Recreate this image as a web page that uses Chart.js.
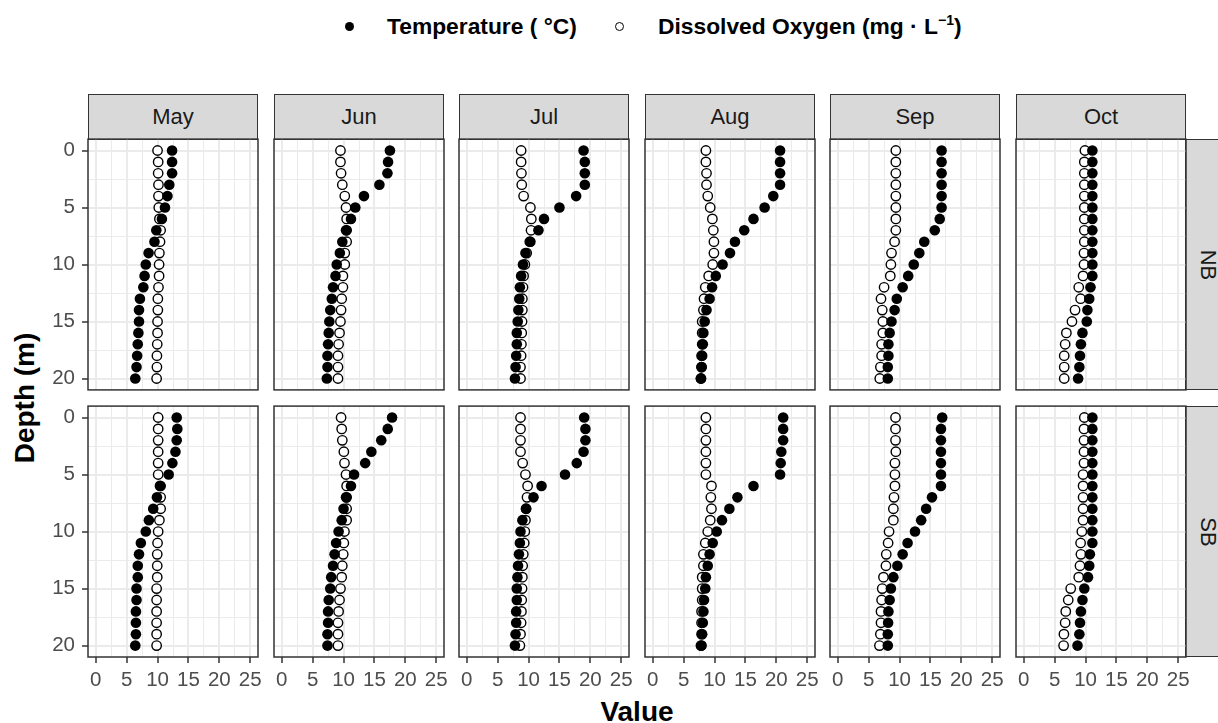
<!DOCTYPE html>
<html>
<head>
<meta charset="utf-8">
<title>Depth profiles</title>
<script src="https://cdn.jsdelivr.net/npm/chart.js@4.4.1/dist/chart.umd.min.js"></script>
<style>
  body { margin: 0; width: 1218px; height: 723px; overflow: hidden; background: #fff; position: relative; font-family: "Liberation Sans", Arial, sans-serif; }
  canvas { position: absolute; }
  .strip { position: absolute; box-sizing: border-box; background: #d9d9d9; border: 1.5px solid #333; color: #1a1a1a; font-size: 22px; display: flex; align-items: center; justify-content: center; }
  .strip.side span { display: block; transform: rotate(90deg); }
  .title { position: absolute; font-weight: bold; color: #000; white-space: nowrap; line-height: 28px; }
  .key { position: absolute; width: 9px; height: 9px; border-radius: 50%; box-sizing: border-box; }
</style>
</head>
<body>
<div class="key" style="left:345px; top:21.5px; background:#000"></div>
<div class="title" style="left:387px; top:12px; font-size:22.8px">Temperature ( °C)</div>
<div class="key" style="left:615px; top:21.5px; border:1.3px solid #000; background:#fff"></div>
<div class="title" style="left:658px; top:12px; font-size:22.8px">Dissolved Oxygen (mg · L<sup style="font-size:14px; line-height:0">−1</sup>)</div>

<div class="title" style="left:25px; top:398px; font-size:28px; transform:translate(-50%,-50%) rotate(-90deg)">Depth (m)</div>
<div class="title" style="left:637px; top:698px; font-size:28px; transform:translateX(-50%)">Value</div>

<script>
const months = ['May', 'Jun', 'Jul', 'Aug', 'Sep', 'Oct'];
const sites = ['NB', 'SB'];
const depths = [0, 1, 2, 3, 4, 5, 6, 7, 8, 9, 10, 11, 12, 13, 14, 15, 16, 17, 18, 19, 20];
const xTicks = [0, 5, 10, 15, 20, 25];
const yTicks = [0, 5, 10, 15, 20];

// one row per month, one value per depth
const tempNB = [
  [12.35, 12.35, 12.35, 11.9, 11.6, 11.2, 10.7, 9.8, 9.5, 8.55, 8.1, 7.9, 7.7, 7.15, 7.0, 7.0, 6.9, 6.8, 6.7, 6.6, 6.4],
  [17.5, 17.2, 17.1, 15.8, 13.3, 11.9, 11.2, 10.4, 9.8, 9.4, 8.9, 8.7, 8.3, 8.1, 7.85, 7.7, 7.6, 7.5, 7.4, 7.4, 7.3],
  [18.9, 19.1, 19.1, 19.1, 17.7, 15.0, 12.5, 11.6, 10.3, 9.5, 9.1, 8.8, 8.6, 8.5, 8.35, 8.25, 8.1, 8.1, 8.0, 7.9, 7.8],
  [20.6, 20.6, 20.6, 20.6, 19.5, 18.1, 16.3, 14.8, 13.3, 12.5, 11.3, 10.2, 9.6, 9.2, 8.7, 8.4, 8.2, 8.1, 8.0, 7.9, 7.8],
  [16.8, 16.8, 16.8, 16.8, 16.8, 16.8, 16.5, 15.7, 14.0, 13.2, 12.3, 11.4, 10.5, 9.55, 9.2, 8.7, 8.4, 8.2, 8.2, 8.1, 8.1],
  [11.1, 11.1, 11.1, 11.1, 11.1, 11.1, 11.1, 11.1, 11.1, 11.1, 11.1, 11.1, 10.8, 10.6, 10.3, 10.2, 9.5, 9.25, 9.1, 9.0, 8.8]
];
const doNB = [
  [10.0, 10.1, 10.1, 10.15, 10.15, 10.2, 10.3, 10.5, 10.4, 10.3, 10.25, 10.25, 10.15, 10.05, 10.05, 10.0, 10.0, 9.95, 9.9, 9.9, 9.85],
  [9.5, 9.5, 9.6, 9.8, 10.2, 10.4, 10.5, 10.5, 10.5, 10.2, 10.2, 9.9, 9.9, 9.7, 9.6, 9.5, 9.35, 9.2, 9.1, 9.1, 9.1],
  [8.8, 8.8, 8.85, 8.9, 9.2, 10.3, 10.45, 10.4, 10.2, 9.7, 9.4, 9.2, 9.1, 9.0, 9.0, 8.95, 8.9, 8.85, 8.8, 8.7, 8.7],
  [8.6, 8.6, 8.7, 8.7, 8.9, 9.3, 9.65, 9.8, 9.9, 9.9, 9.7, 9.05, 8.5, 8.3, 8.2, 8.0, 8.0, 8.0, 7.9, 7.9, 7.8],
  [9.4, 9.4, 9.4, 9.4, 9.4, 9.4, 9.4, 9.4, 9.2, 8.7, 8.6, 8.5, 7.5, 7.0, 7.2, 7.3, 7.3, 7.1, 7.1, 6.9, 6.8],
  [9.9, 9.8, 9.8, 9.8, 9.8, 9.8, 9.8, 9.8, 9.8, 9.75, 9.75, 9.6, 8.9, 9.2, 8.3, 7.8, 6.9, 6.7, 6.55, 6.55, 6.55]
];
const tempSB = [
  [13.1, 13.2, 13.1, 12.9, 12.4, 11.8, 10.5, 9.9, 9.3, 8.6, 8.1, 7.3, 7.0, 6.8, 6.8, 6.6, 6.6, 6.5, 6.5, 6.5, 6.4],
  [17.85, 17.15, 16.1, 14.5, 13.5, 11.7, 11.2, 10.4, 10.0, 9.7, 9.2, 8.8, 8.55, 8.3, 8.0, 7.85, 7.6, 7.5, 7.5, 7.4, 7.4],
  [19.0, 19.2, 19.2, 18.9, 17.8, 15.9, 12.1, 10.8, 9.6, 9.0, 8.7, 8.6, 8.45, 8.3, 8.2, 8.1, 8.1, 8.0, 8.0, 7.9, 7.8],
  [21.1, 21.1, 21.1, 20.8, 20.7, 20.6, 16.3, 13.7, 12.4, 11.2, 10.35, 9.7, 9.2, 8.9, 8.6, 8.5, 8.3, 8.2, 8.1, 8.0, 7.9],
  [16.9, 16.7, 16.7, 16.7, 16.7, 16.7, 16.7, 15.25, 14.3, 13.5, 12.5, 11.3, 10.5, 9.65, 9.0, 8.6, 8.4, 8.2, 8.15, 8.1, 8.1],
  [11.1, 11.1, 11.1, 11.1, 11.1, 11.1, 11.1, 11.1, 11.1, 11.1, 11.1, 11.1, 10.7, 10.6, 10.4, 9.8, 9.5, 9.25, 9.1, 9.0, 8.7]
];
const doSB = [
  [10.1, 10.1, 10.1, 10.1, 10.1, 10.1, 10.4, 10.5, 10.5, 10.3, 10.1, 10.0, 9.95, 9.95, 9.95, 9.85, 9.85, 9.85, 9.85, 9.85, 9.85],
  [9.6, 9.7, 9.8, 10.05, 10.15, 10.4, 10.5, 10.5, 10.5, 10.5, 10.15, 10.05, 9.95, 9.8, 9.7, 9.5, 9.35, 9.2, 9.1, 9.1, 9.1],
  [8.7, 8.7, 8.7, 8.7, 9.05, 9.5, 9.85, 9.75, 9.6, 9.5, 9.4, 9.3, 9.15, 9.05, 9.0, 8.95, 8.9, 8.85, 8.8, 8.7, 8.6],
  [8.6, 8.6, 8.6, 8.6, 8.6, 8.6, 9.5, 9.4, 9.5, 9.3, 8.9, 8.5, 8.2, 8.2, 8.0, 8.0, 8.0, 7.9, 7.9, 7.9, 7.8],
  [9.35, 9.35, 9.35, 9.4, 9.25, 9.25, 9.25, 9.1, 9.0, 9.0, 8.3, 8.15, 7.85, 7.8, 7.4, 7.2, 7.1, 7.0, 7.0, 6.9, 6.75],
  [9.8, 9.75, 9.75, 9.75, 9.75, 9.6, 9.6, 9.6, 9.6, 9.6, 9.4, 9.2, 9.25, 9.1, 8.9, 7.6, 7.2, 6.8, 6.7, 6.5, 6.45]
];

const tempBySite = [tempNB, tempSB];
const doBySite = [doNB, doSB];

const panelW = 170, panelH = 251, pitch = 185.6, left0 = 88;
const rowTop = [139, 406];
const yAxisW = 60, xAxisH = 42, padTop = 6, padRight = 14;
const gridColor = '#ebebeb', ink = '#333333', tickInk = '#4d4d4d';
const font = { family: '"Liberation Sans", Arial, sans-serif', size: 20.5 };

// ggplot-style minor lines half way between the major breaks
function withMinor(major) {
  const out = [];
  major.forEach((v, i) => {
    out.push(v);
    if (i < major.length - 1) out.push((v + major[i + 1]) / 2);
  });
  return out;
}

const panelBorder = {
  id: 'panelBorder',
  afterDraw(chart) {
    const { ctx, chartArea: a } = chart;
    ctx.save();
    ctx.strokeStyle = ink;
    ctx.lineWidth = 1.5;
    ctx.strokeRect(a.left, a.top, a.right - a.left, a.bottom - a.top);
    ctx.restore();
  }
};

function axis(major, showLabels, opts) {
  return Object.assign({
    type: 'linear',
    afterBuildTicks: s => { s.ticks = withMinor(major).map(v => ({ value: v })); },
    border: { display: false },
    grid: {
      color: gridColor,
      lineWidth: c => major.includes(c.tick.value) ? 2 : 1,
      drawTicks: showLabels,
      tickLength: 6,
      tickWidth: 1.5,
      tickColor: c => major.includes(c.tick.value) ? ink : 'rgba(0,0,0,0)'
    },
    ticks: {
      display: showLabels,
      autoSkip: false,
      maxRotation: 0,
      minRotation: 0,
      color: tickInk,
      font: font,
      callback: v => major.includes(v) ? String(v) : ''
    }
  }, opts);
}

function makePanel(col, row) {
  const bottomRow = row === 1;
  const canvas = document.createElement('canvas');
  const w = yAxisW + panelW + padRight;
  const h = padTop + panelH + (bottomRow ? xAxisH : padTop);
  canvas.width = w;
  canvas.height = h;
  canvas.style.left = (Math.round(left0 + col * pitch) - yAxisW) + 'px';
  canvas.style.top = (rowTop[row] - padTop) + 'px';
  document.body.appendChild(canvas);

  const temp = tempBySite[row][col];
  const oxy = doBySite[row][col];

  const xAxis = axis(xTicks, bottomRow, {
    min: -1.25, max: 26.25,
    afterFit: s => { s.height = bottomRow ? xAxisH : 0; s.paddingLeft = 0; s.paddingRight = 0; }
  });
  xAxis.ticks.padding = 5;

  const yAxis = axis(yTicks, col === 0, {
    min: -1, max: 21, reverse: true,
    afterFit: s => { s.width = yAxisW; s.paddingTop = 0; s.paddingBottom = 0; }
  });
  yAxis.ticks.padding = 7;

  new Chart(canvas, {
    type: 'scatter',
    data: {
      datasets: [
        {
          label: 'Temperature ( °C)',
          data: depths.map((d, i) => ({ x: temp[i], y: d })),
          pointRadius: 5.3,
          pointBorderWidth: 0,
          pointBackgroundColor: '#000',
          pointBorderColor: '#000'
        },
        {
          label: 'Dissolved Oxygen (mg · L⁻¹)',
          data: depths.map((d, i) => ({ x: oxy[i], y: d })),
          pointRadius: 4.7,
          pointBorderWidth: 1.4,
          pointBackgroundColor: '#fff',
          pointBorderColor: '#000'
        }
      ]
    },
    options: {
      responsive: false,
      animation: false,
      events: [],
      layout: { padding: { top: padTop, right: padRight, bottom: bottomRow ? 0 : padTop, left: 0 } },
      plugins: { legend: { display: false }, tooltip: { enabled: false } },
      scales: { x: xAxis, y: yAxis }
    },
    plugins: [panelBorder]
  });
}

// facet strips
months.forEach((m, col) => {
  const s = document.createElement('div');
  s.className = 'strip';
  s.style.left = Math.round(left0 + col * pitch) + 'px';
  s.style.top = '94px';
  s.style.width = panelW + 'px';
  s.style.height = '46px';
  s.textContent = m;
  document.body.appendChild(s);
});
sites.forEach((site, row) => {
  const s = document.createElement('div');
  s.className = 'strip side';
  s.style.left = (Math.round(left0 + 5 * pitch) + panelW - 1) + 'px';
  s.style.top = rowTop[row] + 'px';
  s.style.width = '46px';
  s.style.height = panelH + 'px';
  s.innerHTML = '<span>' + site + '</span>';
  document.body.appendChild(s);
});

for (let row = 0; row < 2; row++) {
  for (let col = 0; col < 6; col++) makePanel(col, row);
}
</script>
</body>
</html>
